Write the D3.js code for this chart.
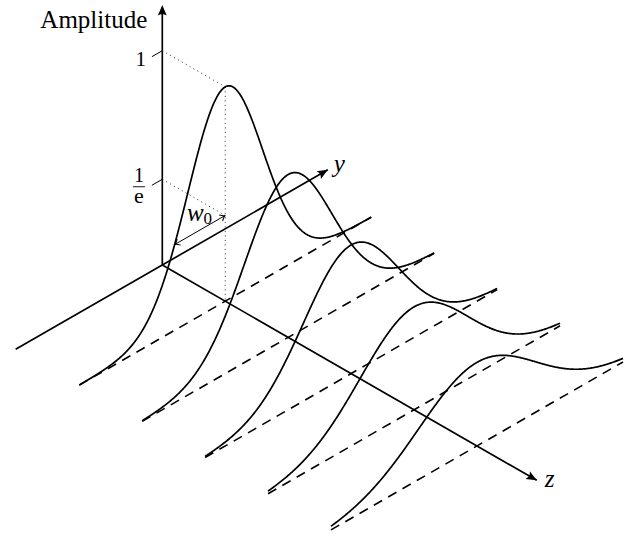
<!DOCTYPE html>
<html>
<head>
<meta charset="utf-8">
<script src="https://cdn.jsdelivr.net/npm/d3@7"></script>
<style>
  html, body { margin: 0; padding: 0; background: #fff; }
  svg { display: block; }
  text { font-family: "Liberation Serif", "DejaVu Serif", serif; fill: #000; }
</style>
</head>
<body>
<svg id="chart" width="625" height="534"></svg>
<script>
// ---------------- data ----------------
const sliceZ    = [1, 2, 3, 4, 5];                 // z position of each profile
const peakAmp   = [1.00, 0.76, 0.60, 0.48, 0.39];  // peak amplitude of each profile
const beamWidth = [0.84, 0.98, 1.07, 1.21, 1.31];  // Gaussian width w(z) of each profile
const baseHalf  = 2.32;                            // half-length of each dashed baseline (y units)
const yAxisExtent = [-2.33, 2.63];
const zAxisExtent = [0, 5.95];
const ampAxisMax  = 1.213;
const ampTicks      = [1, 0.40];
const ampTickLabels = ["1", "1/e"];
const axisLabels    = { amp: "Amplitude", y: "y", z: "z", w: "w", wSub: "0" };

// ---------------- scales & projection ----------------
const svg = d3.select("#chart");
const origin = [162.3, 265];
const ang = 29.9 * Math.PI / 180;
const depth = d3.scaleLinear().domain([0, 1]).range([0, 72.6]);   // y and z units -> px
const amp   = d3.scaleLinear().domain([0, 1]).range([0, 214.3]);  // amplitude -> px

function P(y, z, a) {
  const u = depth(y), v = depth(z), h = amp(a);
  return [origin[0] + (u + v) * Math.cos(ang), origin[1] + (v - u) * Math.sin(ang) - h];
}
const line = d3.line();

function arrowHead(g, tip, from, size) {
  const dx = tip[0] - from[0], dy = tip[1] - from[1];
  const th = Math.atan2(dy, dx) * 180 / Math.PI;
  const L = size, Wd = size * 0.42;
  g.append("path")
    .attr("d", `M0,0 L${-L},${-Wd} Q${-L*0.7},0 ${-L},${Wd} Z`)
    .attr("transform", `translate(${tip[0]},${tip[1]}) rotate(${th})`)
    .attr("fill", "#000");
}
function thinHead(g, tip, from, size) {
  const dx = tip[0] - from[0], dy = tip[1] - from[1];
  const th = Math.atan2(dy, dx) * 180 / Math.PI;
  g.append("path")
    .attr("d", `M${-size},${-size*0.7} Q${-size*0.3},0 0,0 Q${-size*0.3},0 ${-size},${size*0.7}`)
    .attr("transform", `translate(${tip[0]},${tip[1]}) rotate(${th})`)
    .attr("fill", "none").attr("stroke", "#000").attr("stroke-width", 1);
}
function gauss(y, a, w) { const r = y / w; return a * Math.exp(-(r * r)); }

const gAxes = svg.append("g");
const axisStroke = 1.7;

// vertical amplitude axis
const vA = P(0, 0, 0), vB = P(0, 0, ampAxisMax);
gAxes.append("path").attr("d", line([vA, [vB[0], vB[1] + 4]]))
  .attr("stroke", "#000").attr("stroke-width", axisStroke).attr("fill", "none");
arrowHead(gAxes, vB, vA, 10.5);

// y axis
const yA = P(yAxisExtent[0], 0, 0), yB = P(yAxisExtent[1], 0, 0);
gAxes.append("path").attr("d", line([yA, yB]))
  .attr("stroke", "#000").attr("stroke-width", axisStroke).attr("fill", "none");
arrowHead(gAxes, yB, yA, 10.5);

// z axis
const zA = P(0, zAxisExtent[0], 0), zB = P(0, zAxisExtent[1], 0);
gAxes.append("path").attr("d", line([zA, zB]))
  .attr("stroke", "#000").attr("stroke-width", axisStroke).attr("fill", "none");
arrowHead(gAxes, zB, zA, 10.5);

// ticks on amplitude axis
ampTicks.forEach(t => {
  gAxes.append("path").attr("d", line([P(0, 0, t), P(-0.165, 0, t)]))
    .attr("stroke", "#000").attr("stroke-width", 1).attr("fill", "none");
});

// dotted guides for the first profile
const dotted = svg.append("g").attr("stroke", "#333").attr("stroke-width", 1)
  .attr("stroke-dasharray", "1 3.5").attr("fill", "none");
const z0 = sliceZ[0];
dotted.append("path").attr("d", line([P(0, 0, ampTicks[0]), P(0, z0, ampTicks[0])]));
dotted.append("path").attr("d", line([P(0, z0, peakAmp[0]), P(0, z0, 0)]));
dotted.append("path").attr("d", line([P(0, 0, ampTicks[1]), P(0, z0, ampTicks[1])]));

// profiles
const gSlices = svg.append("g");
sliceZ.forEach((z, i) => {
  gSlices.append("path")
    .attr("d", line([P(-baseHalf, z, 0), P(baseHalf, z, 0)]))
    .attr("stroke", "#000").attr("stroke-width", 1.6)
    .attr("stroke-dasharray", "9.5 7").attr("fill", "none");
  const ys = d3.range(-baseHalf, baseHalf + 1e-9, 0.01);
  const pts = ys.map(y => P(y, z, gauss(y, peakAmp[i], beamWidth[i])));
  gSlices.append("path").attr("d", line(pts))
    .attr("stroke", "#000").attr("stroke-width", 1.7).attr("fill", "none")
    .attr("stroke-linejoin", "round");
});

// w0 arrow at the 1/e level
const lvl = ampTicks[1];
const yEdge = -beamWidth[0] * Math.sqrt(Math.log(peakAmp[0] / lvl));
const wA = P(0, z0, lvl), wB = P(yEdge, z0, lvl);
svg.append("path").attr("d", line([wA, wB]))
  .attr("stroke", "#000").attr("stroke-width", 1).attr("fill", "none");
thinHead(svg, wA, wB, 5);
thinHead(svg, wB, wA, 5);
const wm = [(wA[0] + wB[0]) / 2, (wA[1] + wB[1]) / 2];
const wt = svg.append("text").attr("x", wm[0] - 13).attr("y", wm[1] - 9)
  .style("font-size", "25px").style("font-style", "italic");
wt.append("tspan").text(axisLabels.w);
wt.append("tspan").attr("dy", 3).style("font-size", "17px").style("font-style", "normal").text(axisLabels.wSub);

// labels
svg.append("text").attr("x", vB[0] - 15).attr("y", vB[1] + 23)
  .attr("text-anchor", "end").style("font-size", "25px").text(axisLabels.amp);
svg.append("text").attr("x", yB[0] + 6).attr("y", yB[1] + 2)
  .style("font-size", "25px").style("font-style", "italic").text(axisLabels.y);
svg.append("text").attr("x", zB[0] + 8).attr("y", zB[1] + 7)
  .style("font-size", "25px").style("font-style", "italic").text(axisLabels.z);

// tick labels
const t1 = P(-0.165, 0, ampTicks[0]);
svg.append("text").attr("x", t1[0] - 6).attr("y", t1[1] + 9)
  .attr("text-anchor", "end").style("font-size", "21px").text(ampTickLabels[0]);
const t2 = P(-0.165, 0, ampTicks[1]);
const [num, den] = ampTickLabels[1].split("/");
const fx = t2[0] - 13, fy = t2[1] + 1.5;
const frac = svg.append("text").attr("text-anchor", "middle");
frac.append("tspan").attr("x", fx).attr("y", fy - 4.5).style("font-size", "20px").text(num);
frac.append("tspan").attr("x", fx).attr("y", fy + 16.5).style("font-size", "22px").text(den);
svg.append("path").attr("d", line([[fx - 6, fy], [fx + 6, fy]]))
  .attr("stroke", "#000").attr("stroke-width", 0.9);
</script>
</body>
</html>
